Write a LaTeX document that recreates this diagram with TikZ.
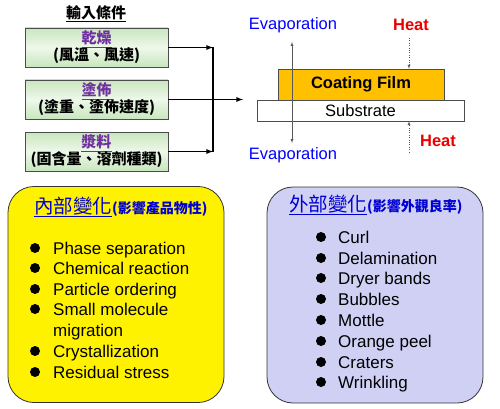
\documentclass[tikz,border=0pt]{standalone}
\usepackage{fontspec}
\setmainfont{Liberation Sans}
\newfontfamily\cjk{Noto Sans CJK TC}
\usetikzlibrary{positioning}

\definecolor{condpurple}{RGB}{112,48,160}
\definecolor{condgreen}{RGB}{200,230,190}
\definecolor{condlight}{RGB}{238,248,234}
\definecolor{filmgold}{RGB}{255,192,0}
\definecolor{lavender}{RGB}{208,208,245}
\definecolor{titleblue}{RGB}{0,0,210}
\definecolor{heatred}{RGB}{235,0,0}

\tikzset{
  condbox/.style={draw=gray!60!black, line width=0.7pt, minimum width=143pt, minimum height=39pt,
    top color=condgreen, bottom color=condgreen, middle color=condlight, align=center,
    font=\cjk\bfseries\fontsize{15}{17}\selectfont, inner sep=0pt},
  feed/.style={line width=1.3pt, -latex},
  changebox/.style={draw=gray!40!black, line width=0.8pt, minimum width=216pt, minimum height=216pt,
    rounded corners=26pt},
  evap/.style={text=blue, font=\fontsize{16.5}{18}\selectfont},
  heat/.style={text=heatred, font=\bfseries\fontsize{16.5}{18}\selectfont},
  item/.style={anchor=base west, font=\fontsize{17}{19}\selectfont, inner sep=0pt},
}

\begin{document}
\begin{tikzpicture}[x=1pt,y=-1pt]
\useasboundingbox (0,0) rectangle (500,409);

% input conditions
\node[font=\cjk\bfseries\fontsize{15}{17}\selectfont] (input) at (96,14) {\underline{輸入條件}};
\node[condbox] (dry) at (96.5,47.5) {\textcolor{condpurple}{\underline{乾燥}}\\(風溫、風速)};
\node[condbox] (coat) at (96.5,99.5) {\textcolor{condpurple}{\underline{塗佈}}\\(塗重、塗佈速度)};
\node[condbox] (slurry) at (96.5,151.5) {\textcolor{condpurple}{\underline{漿料}}\\(固含量、溶劑種類)};

\coordinate (j1) at (213,47.5);
\coordinate (j3) at (213,151.5);
\coordinate (feedin) at (243,99.5);
\draw[feed] (dry) -- (j1);
\draw[feed] (slurry) -- (j3);
\draw[line width=1.3pt] (j1) -- (j3);
\draw[feed] (coat) -- (feedin);

% film on substrate
\node[draw=gray!60!black, fill=filmgold, minimum width=166pt, minimum height=31pt,
  font=\bfseries\fontsize{16.5}{18}\selectfont] (film) at (361,84.5) {Coating Film};
\node[draw=gray!60!black, fill=white, minimum width=207pt, minimum height=21pt, inner sep=0pt,
  font=\fontsize{16.5}{18}\selectfont] (sub) at (360.5,110.5) {Substrate};

\node[evap] (evtop) at (293,25) {Evaporation};
\node[evap] (evbot) at (293,155) {Evaporation};
\coordinate (evup) at (292,42);
\coordinate (evdn) at (292,143);
\draw[gray!70!black, latex-latex] (evup) -- (evdn);

\node[heat] (heattop) at (411,25) {Heat};
\node[heat] (heatbot) at (438,141) {Heat};
\coordinate (h1) at (409,38);
\coordinate (h2) at (409,152);
\draw[gray!70!black, dotted, -latex] (h1) -- (h1 |- film.north);
\draw[gray!70!black, dotted, -latex] (h2) -- (h2 |- sub.south);

% internal / external changes
\node[changebox, fill=yellow] (inner) at (116,294.5) {};
\node[changebox, fill=lavender] (outer) at (375,295) {};

\node[anchor=west, inner sep=0pt, text=titleblue] (innertitle) at (34,207)
  {{\cjk\fontsize{19.5}{22}\selectfont\underline{內部變化}}{\cjk\bfseries\fontsize{14}{16}\selectfont(影響產品物性)}};
\node[anchor=west, inner sep=0pt, text=titleblue] (outertitle) at (289,205)
  {{\cjk\fontsize{19.5}{22}\selectfont\underline{外部變化}}{\cjk\bfseries\fontsize{14}{16}\selectfont(影響外觀良率)}};

\foreach \y/\txt in {248/Phase separation, 268/Chemical reaction, 289/Particle ordering,
  309/Small molecule, 351/Crystallization, 372/Residual stress} {
  \fill (35,\y) circle (5pt);
  \node[item] (in\y) at (53,\y+6) {\txt};
}
\node[item] (inmig) at (53,336) {migration};

\foreach \y/\txt in {237/Curl, 258/Delamination, 278/Dryer bands, 299/Bubbles,
  320/Mottle, 341/Orange peel, 362/Craters, 382/Wrinkling} {
  \fill (321,\y) circle (5pt);
  \node[item] (out\y) at (338,\y+6) {\txt};
}

\end{tikzpicture}
\end{document}
